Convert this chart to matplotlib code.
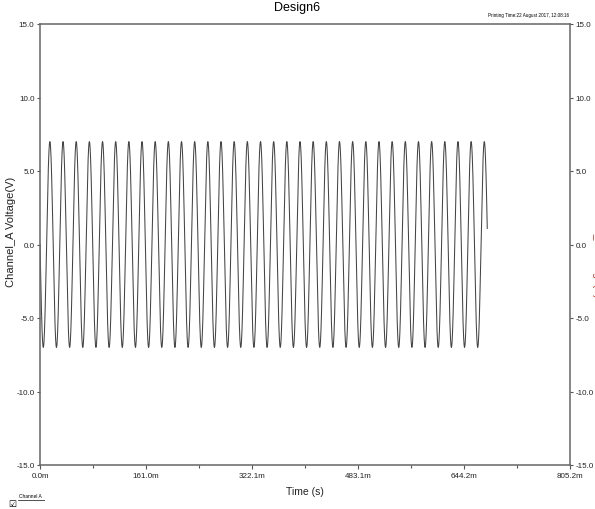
import matplotlib
matplotlib.use('Agg')
import matplotlib.pyplot as plt
import numpy as np
from matplotlib.lines import Line2D

# signal: 50 Hz, 7 V peak, starts going negative, stops ~679.5 ms
amp_v = 7.0
freq_hz = 50.0
t_end_s = 0.6795
n_samples = 6000

x_ticks = [0.0, 0.16104, 0.32208, 0.48312, 0.64416, 0.8052]
x_ticklabels = ['0.0m', '161.0m', '322.1m', '483.1m', '644.2m', '805.2m']
y_ticks = [-15.0, -10.0, -5.0, 0.0, 5.0, 10.0, 15.0]
y_ticklabels = ['%.1f' % v for v in y_ticks]

t = np.linspace(0.0, t_end_s, n_samples)
v = -amp_v * np.sin(2 * np.pi * freq_hz * t)

plt.rcParams['font.family'] = ['Liberation Sans', 'DejaVu Sans']

fig = plt.figure(figsize=(5.95, 5.10), dpi=100)
ax = fig.add_axes([40/595., 1 - 466/510., 530/595., 441/510.])

ax.plot(t, v, color='#444444', lw=0.75)

ax.set_xlim(0, 0.8052)
ax.set_ylim(-15, 15)
ax.set_xticks(x_ticks)
ax.set_xticklabels(x_ticklabels)
ax.set_xticks([(a + b) / 2 for a, b in zip(x_ticks[:-1], x_ticks[1:])], minor=True)
ax.set_yticks(y_ticks)
ax.set_yticklabels(y_ticklabels)

ax.tick_params(axis='both', which='both', direction='out', labelsize=5.8,
               color='#555555', labelcolor='#222222', width=0.8)
ax.tick_params(axis='x', which='major', length=3, pad=2)
ax.tick_params(axis='x', which='minor', length=2)
ax.tick_params(axis='y', length=2.5, pad=1.5, right=True, labelright=True)

for s in ax.spines.values():
    s.set_color('#666666')
    s.set_linewidth(1.1)

ax.set_ylabel('Channel_A Voltage(V)', fontsize=8, color='#222222')
ax.yaxis.set_label_coords(-24/530., 0.53)
ax.set_xlabel('Time (s)', fontsize=7.5, labelpad=5, color='#222222')

# right axis label, mostly cut off by the figure edge like in the source
fig.text(597/595., 1 - 246/510., 'Channel_B Voltage(V)', rotation=-90, color='#c0392b',
         fontsize=7.5, ha='center', va='center')

fig.text(0.5, 1 - 8/510., 'Design6', fontsize=9, ha='center', va='center')
fig.text(569/595., 1 - 16/510., 'Printing Time:22 August 2017, 12:08:16',
         fontsize=3.3, ha='right', va='center')

# little legend at bottom left
fig.text(12/595., 1 - 504/510., '\u2611', family='DejaVu Sans', fontsize=6.5,
         ha='center', va='center')
fig.text(19/595., 1 - 497/510., 'Channel A', fontsize=3.5, ha='left', va='center')
fig.add_artist(Line2D([18/595., 44/595.], [1 - 501/510., 1 - 501/510.],
                      transform=fig.transFigure, color='#333333', lw=0.6))

fig.savefig('out.png', dpi=100)
